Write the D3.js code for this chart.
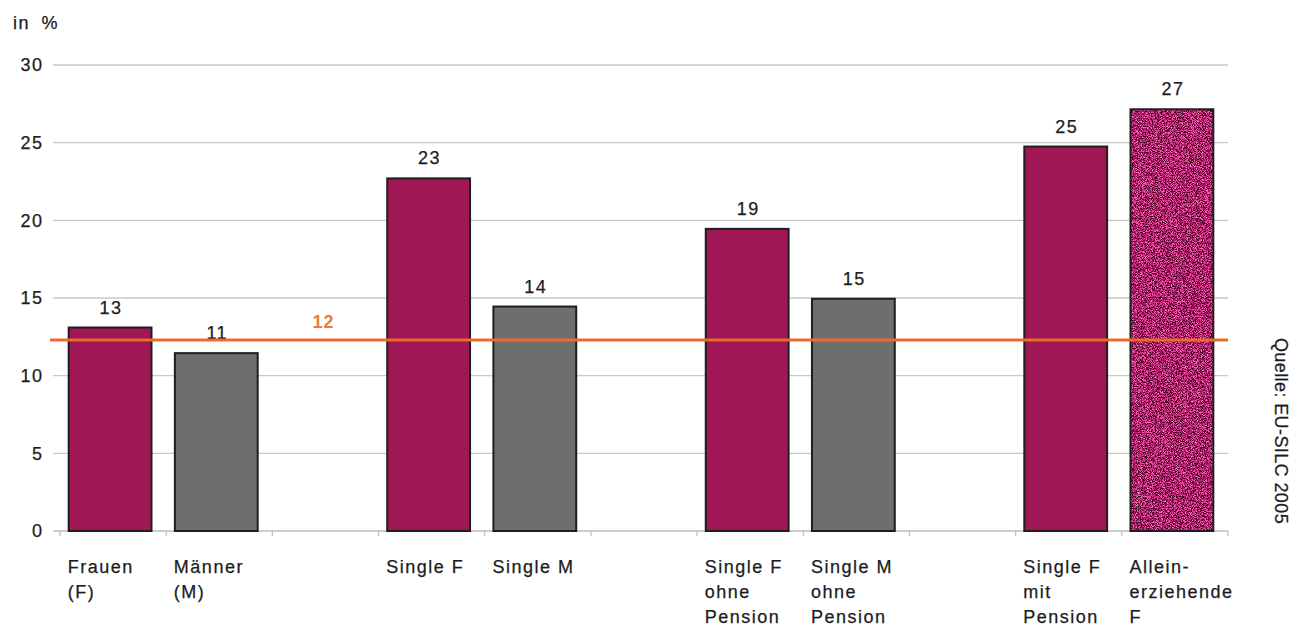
<!DOCTYPE html>
<html>
<head>
<meta charset="utf-8">
<script src="https://cdn.jsdelivr.net/npm/d3@7"></script>
<style>
  html, body { margin: 0; padding: 0; background: #fff; }
  svg { display: block; font-family: "Liberation Sans", Arial, sans-serif; }
  .lbl { font-size: 18px; letter-spacing: 1.5px; fill: #1c1c1c; stroke: #1c1c1c; stroke-width: 0.25px; }
</style>
</head>
<body>
<svg id="chart" width="1303" height="628"></svg>
<script>
// Armutsgefährdung nach Haushaltstyp, in %
const categories = [
  ["Frauen", "(F)"],
  ["Männer", "(M)"],
  [],
  ["Single F"],
  ["Single M"],
  [],
  ["Single F", "ohne", "Pension"],
  ["Single M", "ohne", "Pension"],
  [],
  ["Single F", "mit", "Pension"],
  ["Allein-", "erziehende", "F"]
];
const values = [13.1, 11.45, null, 22.7, 14.45, null, 19.45, 14.95, null, 24.75, 27.15];
const groups = ["F", "M", null, "F", "M", null, "F", "M", null, "F", "A"];
const average = 12.3;
const yTicks = [0, 5, 10, 15, 20, 25, 30];
const unitLabel = "in %";
const sourceLabel = "Quelle: EU-SILC 2005";

const colors = { F: "#a01755", M: "#6e6e6e", A: "#9c1d5c" };

const svg = d3.select("#chart");

const x = d3.scaleBand()
  .domain(d3.range(categories.length))
  .range([57, 1225])
  .paddingInner(0.22)
  .paddingOuter(0.11);

const y = d3.scaleLinear().domain([0, 30]).range([531, 65]);

const plotLeft = 53, plotRight = 1228;

// speckled texture for the single-parent bar
const defs = svg.append("defs");
const flt = defs.append("filter")
  .attr("id", "speckle")
  .attr("x", 0).attr("y", 0).attr("width", 1).attr("height", 1)
  .attr("color-interpolation-filters", "sRGB");
flt.append("feTurbulence")
  .attr("type", "fractalNoise")
  .attr("baseFrequency", 1.2)
  .attr("numOctaves", 2)
  .attr("seed", 7)
  .attr("result", "noise");
flt.append("feColorMatrix")
  .attr("in", "noise")
  .attr("type", "matrix")
  .attr("values", [
    "2.2 0 0 0 -0.44",
    "1.3 0 0 0 -0.52",
    "1.7 0 0 0 -0.44",
    "0 0 0 0 1"
  ].join(" "));

// gridlines
svg.append("g")
  .selectAll("line")
  .data(yTicks.filter(t => t > 0))
  .join("line")
  .attr("x1", plotLeft).attr("x2", plotRight)
  .attr("y1", d => y(d)).attr("y2", d => y(d))
  .attr("stroke", "#c8c8c8")
  .attr("stroke-width", 1.3);

// y tick labels
svg.append("g")
  .selectAll("text")
  .data(yTicks)
  .join("text")
  .attr("class", "lbl")
  .attr("x", 43.5)
  .attr("y", d => y(d))
  .attr("dy", "0.35em")
  .attr("text-anchor", "end")
  .text(d => d);

svg.append("text")
  .attr("class", "lbl")
  .attr("x", 13).attr("y", 29)
  .attr("word-spacing", 5)
  .text(unitLabel);

// x axis line and ticks at slot boundaries
const step = x.step();
const bounds = d3.range(categories.length + 1).map(i => 60 + i * step);
svg.append("line")
  .attr("x1", plotLeft).attr("x2", plotRight)
  .attr("y1", y(0)).attr("y2", y(0))
  .attr("stroke", "#bdbdbd")
  .attr("stroke-width", 1.5);
svg.append("g")
  .selectAll("line")
  .data(bounds)
  .join("line")
  .attr("x1", d => d).attr("x2", d => d)
  .attr("y1", y(0)).attr("y2", y(0) + 5)
  .attr("stroke", "#bdbdbd")
  .attr("stroke-width", 1.2);

// bars
const barData = values.map((v, i) => ({ i, v, g: groups[i] })).filter(d => d.v != null);
const bars = svg.append("g");
bars.selectAll("rect.fill")
  .data(barData)
  .join("rect")
  .attr("class", "fill")
  .attr("x", d => x(d.i))
  .attr("y", d => y(d.v))
  .attr("width", x.bandwidth())
  .attr("height", d => y(0) - y(d.v))
  .attr("fill", d => colors[d.g])
  .attr("filter", d => d.g === "A" ? "url(#speckle)" : null);
bars.selectAll("rect.edge")
  .data(barData)
  .join("rect")
  .attr("class", "edge")
  .attr("x", d => x(d.i))
  .attr("y", d => y(d.v))
  .attr("width", x.bandwidth())
  .attr("height", d => y(0) - y(d.v))
  .attr("fill", "none")
  .attr("stroke", "#1e1e1e")
  .attr("stroke-width", 2);

// value labels
svg.append("g")
  .selectAll("text")
  .data(barData)
  .join("text")
  .attr("class", "lbl")
  .attr("x", d => x(d.i) + x.bandwidth() / 2 + 1)
  .attr("y", d => y(d.v) - 14)
  .attr("text-anchor", "middle")
  .text(d => d3.format(".0f")(d.v));

// average line
svg.append("line")
  .attr("x1", 50).attr("x2", plotRight)
  .attr("y1", y(average)).attr("y2", y(average))
  .attr("stroke", "#ec6a2c")
  .attr("stroke-width", 3);
svg.append("text")
  .attr("x", x(2) + x.bandwidth() * 0.38)
  .attr("y", y(average) - 12)
  .attr("font-size", 18)
  .attr("font-weight", "bold")
  .attr("letter-spacing", 1)
  .attr("fill", "#ef7a3c")
  .text(d3.format(".0f")(average));

// category labels
const cat = svg.append("g");
categories.forEach((lines, i) => {
  const t = cat.append("text")
    .attr("class", "lbl")
    .attr("x", x(i) - 1)
    .attr("y", 573);
  lines.forEach((ln, k) => {
    t.append("tspan")
      .attr("x", x(i) - 1)
      .attr("dy", k === 0 ? 0 : 25)
      .text(ln);
  });
});

// source note
svg.append("text")
  .attr("class", "lbl")
  .attr("transform", "translate(1275,431) rotate(90)")
  .attr("text-anchor", "middle")
  .style("letter-spacing", "0.4px")
  .text(sourceLabel);
</script>
</body>
</html>
